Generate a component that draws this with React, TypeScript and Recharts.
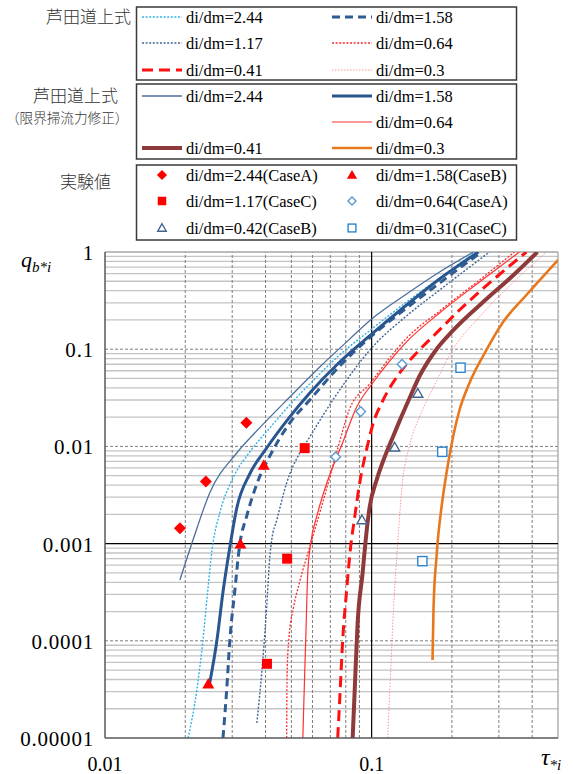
import React from 'react';
import { ComposedChart, Line, Scatter, XAxis, YAxis, ReferenceLine } from 'recharts';

// ---------- axis ticks / grid values ----------
const xTicks = [0.01, 0.1];
const xTickLabels = ['0.01', '0.1'];
const yTicks = [0.00001, 0.0001, 0.001, 0.01, 0.1, 1];
const yTickLabels = ['0.00001', '0.0001', '0.001', '0.01', '0.1', '1'];
const xMinorGrid = [0.02, 0.03, 0.04, 0.05, 0.06, 0.07, 0.08, 0.09, 0.2, 0.3, 0.4];
const yDecades = [0.00001, 0.0001, 0.001, 0.01, 0.1];
const yMinorMult = [2, 3, 4, 5, 6, 7, 8, 9];
const yMajorDashed = [0.0001, 0.01, 0.1];

// ---------- Ashida-Michiue formula curves (x = tau*i, y = qb*i) ----------
const am244 = [[0.0205, 1e-5], [0.0221, 3.12e-5], [0.0233, 1.02e-4], [0.0243, 3.33e-4], [0.0252, 8.6e-4], [0.027, 0.00211], [0.0302, 0.00473], [0.0349, 0.00876], [0.0415, 0.0155], [0.0493, 0.0267], [0.0586, 0.0439], [0.0759, 0.0872], [0.1, 0.161], [0.1352, 0.306], [0.1798, 0.54], [0.2452, 1]];
const am158 = [[0.0277, 1e-5], [0.0286, 3.12e-5], [0.0294, 1.02e-4], [0.0307, 3.33e-4], [0.032, 9.67e-4], [0.034, 0.00192], [0.0371, 0.0041], [0.0415, 0.00796], [0.0493, 0.0174], [0.0586, 0.03], [0.0759, 0.0672], [0.1, 0.137], [0.1352, 0.265], [0.1798, 0.48], [0.2582, 1]];
const am117 = [[0.0371, 1.43e-5], [0.0387, 4.66e-5], [0.0404, 2.23e-4], [0.0415, 7.28e-4], [0.0422, 0.00109], [0.0441, 0.00175], [0.048, 0.0042], [0.0537, 0.00855], [0.0586, 0.0125], [0.0655, 0.0206], [0.0806, 0.0482], [0.1, 0.103], [0.1352, 0.22], [0.1798, 0.406], [0.2767, 1]];
const am064 = [[0.048, 1e-5], [0.0482, 4.66e-5], [0.0489, 1.02e-4], [0.051, 2.23e-4], [0.0537, 4.03e-4], [0.0586, 9.23e-4], [0.0655, 0.00262], [0.074, 0.00876], [0.0827, 0.0243], [0.0983, 0.0439], [0.1168, 0.0812], [0.1352, 0.13], [0.1798, 0.247], [0.2538, 0.515], [0.3433, 1]];
const am041 = [[0.0746, 1e-5], [0.0759, 2.46e-5], [0.0779, 1.02e-4], [0.0806, 3.33e-4], [0.0834, 9.23e-4], [0.0864, 0.00188], [0.0902, 0.0042], [0.0966, 0.0103], [0.1009, 0.0166], [0.11, 0.0293], [0.1273, 0.0569], [0.1474, 0.0914], [0.1751, 0.147], [0.2136, 0.253], [0.2767, 0.48], [0.3806, 1]];
const am03 = [[0.1148, 1e-5], [0.1178, 4.66e-5], [0.1209, 2.23e-4], [0.1252, 9.9e-4], [0.1296, 0.00356], [0.1388, 0.0103], [0.1513, 0.0201], [0.1722, 0.0428], [0.2011, 0.0983], [0.2538, 0.2145], [0.3374, 0.48], [0.4524, 1]];

// ---------- Ashida-Michiue with corrected critical shear ----------
const mod244 = [[0.0191, 4.22e-4], [0.0215, 0.00114], [0.0247, 0.00332], [0.0312, 0.00855], [0.038, 0.0155], [0.0493, 0.0322], [0.0639, 0.0656], [0.0827, 0.127], [0.1, 0.2045], [0.1352, 0.37], [0.1798, 0.623], [0.241, 1]];
const mod158 = [[0.0247, 3.68e-5], [0.0263, 1.02e-4], [0.0277, 3.18e-4], [0.0294, 9.23e-4], [0.0312, 0.00232], [0.0349, 0.0052], [0.0404, 0.00963], [0.048, 0.0183], [0.0586, 0.0354], [0.0759, 0.0738], [0.1, 0.143], [0.1352, 0.285], [0.1798, 0.528], [0.2516, 1]];
const mod064 = [[0.0552, 1e-5], [0.0561, 4.66e-5], [0.0566, 1.02e-4], [0.0576, 4.98e-4], [0.0591, 0.00101], [0.0622, 0.00188], [0.0679, 0.0042], [0.074, 0.00778], [0.0772, 0.0103], [0.0879, 0.0254], [0.1009, 0.0449], [0.1168, 0.0756], [0.1352, 0.119], [0.1798, 0.236], [0.2538, 0.491], [0.3584, 1]];
const mod041 = [[0.0849, 1e-5], [0.0864, 3.12e-5], [0.0886, 1.52e-4], [0.0925, 4.98e-4], [0.095, 0.00109], [0.0983, 0.00238], [0.1044, 0.00451], [0.1119, 0.00778], [0.1188, 0.0116], [0.1273, 0.0183], [0.1388, 0.0315], [0.1513, 0.053], [0.1751, 0.1], [0.2011, 0.154], [0.2696, 0.328], [0.3374, 0.566], [0.4185, 1]];
const mod03 = [[0.1692, 6.35e-5], [0.1707, 2.23e-4], [0.1751, 7.28e-4], [0.1767, 0.00101], [0.1829, 0.00238], [0.1909, 0.00532], [0.1976, 0.00918], [0.2136, 0.0237], [0.2328, 0.0449], [0.2696, 0.0983], [0.3094, 0.186], [0.3806, 0.361], [0.5, 0.827]];

// ---------- experimental values ----------
const exp244A = [[0.0191, 0.00144], [0.0239, 0.00436], [0.0339, 0.0175]];
const exp158B = [[0.0244, 3.6e-5], [0.0322, 0.00099], [0.0394, 0.0064]];
const exp117C = [[0.0405, 5.8e-5], [0.0482, 0.0007], [0.0561, 0.0096]];
const exp064A = [[0.0733, 0.0078], [0.091, 0.0228], [0.13, 0.07]];
const exp042B = [[0.092, 0.00175], [0.122, 0.0098], [0.149, 0.035]];
const exp031C = [[0.155, 0.00066], [0.184, 0.0088], [0.2155, 0.0645]];

const SERIF = '"Liberation Serif", "Times New Roman", serif';
const JP = '"Noto Sans CJK JP", "Noto Sans", sans-serif';

const toPts = (arr: number[][]) => arr.map(([x, y]) => ({ x, y }));

type LS = { id: string; label: string; data: number[][]; color: string; width: number; dash?: string; opacity?: number };

const amSeries: LS[] = [
  { id: 'am244', label: 'di/dm=2.44', data: am244, color: '#2FB2E8', width: 1.4, dash: '2 1.6' },
  { id: 'am158', label: 'di/dm=1.58', data: am158, color: '#2E5C93', width: 3, dash: '8 5' },
  { id: 'am117', label: 'di/dm=1.17', data: am117, color: '#3F6697', width: 1.4, dash: '2 1.6' },
  { id: 'am064', label: 'di/dm=0.64', data: am064, color: '#FF2A2A', width: 1.3, dash: '2 1.6' },
  { id: 'am041', label: 'di/dm=0.41', data: am041, color: '#FF1010', width: 3, dash: '11 6' },
  { id: 'am03', label: 'di/dm=0.3', data: am03, color: '#FF7A7A', width: 1, dash: '1.5 1.5', opacity: 0.8 },
];
const modSeries: LS[] = [
  { id: 'mod244', label: 'di/dm=2.44', data: mod244, color: '#4B6F9D', width: 1.3 },
  { id: 'mod158', label: 'di/dm=1.58', data: mod158, color: '#2A5690', width: 3 },
  { id: 'mod064', label: 'di/dm=0.64', data: mod064, color: '#FF3030', width: 1.2 },
  { id: 'mod041', label: 'di/dm=0.41', data: mod041, color: '#8E3A3A', width: 4 },
  { id: 'mod03', label: 'di/dm=0.3', data: mod03, color: '#E8781E', width: 2.6 },
];

type MS = { id: string; label: string; data: number[][]; kind: 'diamond' | 'triangle' | 'square'; color: string; filled: boolean; size: number };
const expSeries: MS[] = [
  { id: 'e244', label: 'di/dm=2.44(CaseA)', data: exp244A, kind: 'diamond', color: '#FF0000', filled: true, size: 6 },
  { id: 'e158', label: 'di/dm=1.58(CaseB)', data: exp158B, kind: 'triangle', color: '#FF0000', filled: true, size: 6 },
  { id: 'e117', label: 'di/dm=1.17(CaseC)', data: exp117C, kind: 'square', color: '#FF0000', filled: true, size: 5 },
  { id: 'e064', label: 'di/dm=0.64(CaseA)', data: exp064A, kind: 'diamond', color: '#5B9BD5', filled: false, size: 4.8 },
  { id: 'e042', label: 'di/dm=0.42(CaseB)', data: exp042B, kind: 'triangle', color: '#44628F', filled: false, size: 5 },
  { id: 'e031', label: 'di/dm=0.31(CaseC)', data: exp031C, kind: 'square', color: '#2E86CF', filled: false, size: 4.6 },
];

const markerShape = (m: MS, cx: number, cy: number) => {
  const s = m.size;
  const fill = m.filled ? m.color : '#fff';
  const sw = m.filled ? 0 : 1.4;
  if (m.kind === 'diamond') {
    return <polygon points={`${cx},${cy - s} ${cx + s},${cy} ${cx},${cy + s} ${cx - s},${cy}`} fill={fill} stroke={m.color} strokeWidth={sw} />;
  }
  if (m.kind === 'triangle') {
    return <polygon points={`${cx},${cy - s} ${cx + s},${cy + s * 0.75} ${cx - s},${cy + s * 0.75}`} fill={fill} stroke={m.color} strokeWidth={sw} />;
  }
  return <rect x={cx - s} y={cy - s} width={2 * s} height={2 * s} fill={fill} stroke={m.color} strokeWidth={sw} />;
};

const near = (a: number, b: number) => Math.abs(Math.log10(a) - Math.log10(b)) < 1e-6;

const XTick = (props: any) => {
  const { x, y, payload } = props;
  const i = xTicks.findIndex((t) => near(t, payload.value));
  return (
    <text x={x} y={y} dy={25} textAnchor="middle" fontSize={20} fontFamily={SERIF} fill="#000">
      {i >= 0 ? xTickLabels[i] : ''}
    </text>
  );
};
const YTick = (props: any) => {
  const { x, y, payload } = props;
  const i = yTicks.findIndex((t) => near(t, payload.value));
  return (
    <text x={x - 3} y={y} dy={8} textAnchor="end" fontSize={21} letterSpacing={0.8} fontFamily={SERIF} fill="#000">
      {i >= 0 ? yTickLabels[i] : ''}
    </text>
  );
};

// ---------- legend layout ----------
const legendBoxes = [
  { top: 7, bottom: 80, rows: [17, 43, 70] },
  { top: 84, bottom: 159, rows: [96, 122, 148] },
  { top: 165, bottom: 240, rows: [175, 201, 228] },
];
const amGrid: (string | null)[][] = [['am244', 'am158'], ['am117', 'am064'], ['am041', 'am03']];
const modGrid: (string | null)[][] = [['mod244', 'mod158'], [null, 'mod064'], ['mod041', 'mod03']];
const expGrid: (string | null)[][] = [['e244', 'e158'], ['e117', 'e064'], ['e042', 'e031']];
const colSwatchX = [142, 332];
const colTextX = [186, 376];

const Legend = () => {
  const allLines = [...amSeries, ...modSeries];
  const grids = [amGrid, modGrid, expGrid];
  return (
    <svg width={573} height={250} style={{ position: 'absolute', left: 0, top: 0 }}>
      {legendBoxes.map((b, bi) => (
        <g key={bi}>
          <rect x={136.5} y={b.top} width={380} height={b.bottom - b.top} fill="#fff" stroke="#3a3a3a" strokeWidth={1.5} />
          {grids[bi].map((row, ri) =>
            row.map((id, ci) => {
              if (!id) return null;
              const cy = b.rows[ri];
              if (bi < 2) {
                const s = allLines.find((l) => l.id === id)!;
                return (
                  <g key={id}>
                    <line x1={colSwatchX[ci]} x2={colSwatchX[ci] + 40} y1={cy} y2={cy} stroke={s.color} strokeWidth={s.width} strokeDasharray={s.dash} strokeOpacity={s.opacity ?? 1} />
                    <text x={colTextX[ci]} y={cy + 5.5} fontSize={16.5} fontFamily={SERIF} fill="#000">{s.label}</text>
                  </g>
                );
              }
              const m = expSeries.find((e) => e.id === id)!;
              const mm = { ...m, size: m.size * 0.85 };
              return (
                <g key={id}>
                  {markerShape(mm, colSwatchX[ci] + 20, cy)}
                  <text x={colTextX[ci]} y={cy + 5.5} fontSize={16.5} fontFamily={SERIF} fill="#000">{m.label}</text>
                </g>
              );
            })
          )}
        </g>
      ))}
      <text x={46} y={23} fontSize={17} fontWeight={300} fontFamily={JP} fill="#333">芦田道上式</text>
      <text x={33} y={102} fontSize={17} fontWeight={300} fontFamily={JP} fill="#333">芦田道上式</text>
      <text x={6} y={123} fontSize={13.6} fontWeight={300} fontFamily={JP} fill="#333">（限界掃流力修正）</text>
      <text x={60} y={188} fontSize={17} fontWeight={300} fontFamily={JP} fill="#333">実験値</text>
    </svg>
  );
};

export default function App() {
  const yMinor: number[] = [];
  yDecades.forEach((d) => yMinorMult.forEach((m) => yMinor.push(d * m)));
  return (
    <div style={{ position: 'absolute', left: 0, top: 0, width: 573, height: 774, background: '#fff' }}>
      <ComposedChart width={573} height={774} margin={{ top: 252, right: 15, bottom: 6, left: 0 }}>
        <XAxis dataKey="x" type="number" scale="log" domain={[0.01, 0.5]} allowDataOverflow ticks={xTicks} interval={0} tick={<XTick />} tickLine={false} axisLine={{ stroke: '#595959', strokeWidth: 1.5 }} height={30} />
        <YAxis dataKey="y" type="number" scale="log" domain={[0.00001, 1]} allowDataOverflow ticks={yTicks} interval={0} tick={<YTick />} tickLine={false} axisLine={{ stroke: '#595959', strokeWidth: 1.5 }} width={105} />
        {yMinor.map((v) => (
          <ReferenceLine key={'ym' + v} y={v} stroke="#c4c4c4" strokeWidth={1.3} />
        ))}
        {yMajorDashed.map((v) => (
          <ReferenceLine key={'yM' + v} y={v} stroke="#7f7f7f" strokeWidth={1} strokeDasharray="3 2" />
        ))}
        {xMinorGrid.map((v) => (
          <ReferenceLine key={'xm' + v} x={v} stroke="#7f7f7f" strokeWidth={1} strokeDasharray="3 2" />
        ))}
        <ReferenceLine y={1} stroke="#a6a6a6" strokeWidth={1.3} />
        <ReferenceLine x={0.5} stroke="#a6a6a6" strokeWidth={1.3} />
        <ReferenceLine y={0.001} stroke="#000" strokeWidth={1.2} />
        <ReferenceLine x={0.1} stroke="#000" strokeWidth={1.2} />
        {amSeries.map((s) => (
          <Line key={s.id} data={toPts(s.data)} dataKey="y" type="monotoneX" stroke={s.color} strokeWidth={s.width} strokeDasharray={s.dash} strokeOpacity={s.opacity ?? 1} dot={false} activeDot={false} isAnimationActive={false} />
        ))}
        {modSeries.map((s) => (
          <Line key={s.id} data={toPts(s.data)} dataKey="y" type="monotoneX" stroke={s.color} strokeWidth={s.width} dot={false} activeDot={false} isAnimationActive={false} />
        ))}
        {expSeries.map((m) => (
          <Scatter key={m.id} data={toPts(m.data)} dataKey="y" isAnimationActive={false} shape={(p: any) => markerShape(m, p.cx, p.cy)} />
        ))}
      </ComposedChart>
      <Legend />
      <div style={{ position: 'absolute', left: 21, top: 247, fontFamily: SERIF, fontStyle: 'italic', fontSize: 22, color: '#000', whiteSpace: 'nowrap' }}>
        q<span style={{ fontSize: 15, position: 'relative', top: 5 }}>b*i</span>
      </div>
      <div style={{ position: 'absolute', left: 541, top: 744, fontFamily: SERIF, fontStyle: 'italic', fontSize: 24, color: '#000', whiteSpace: 'nowrap' }}>
        τ<span style={{ fontSize: 15, position: 'relative', top: 5 }}>*i</span>
      </div>
    </div>
  );
}
